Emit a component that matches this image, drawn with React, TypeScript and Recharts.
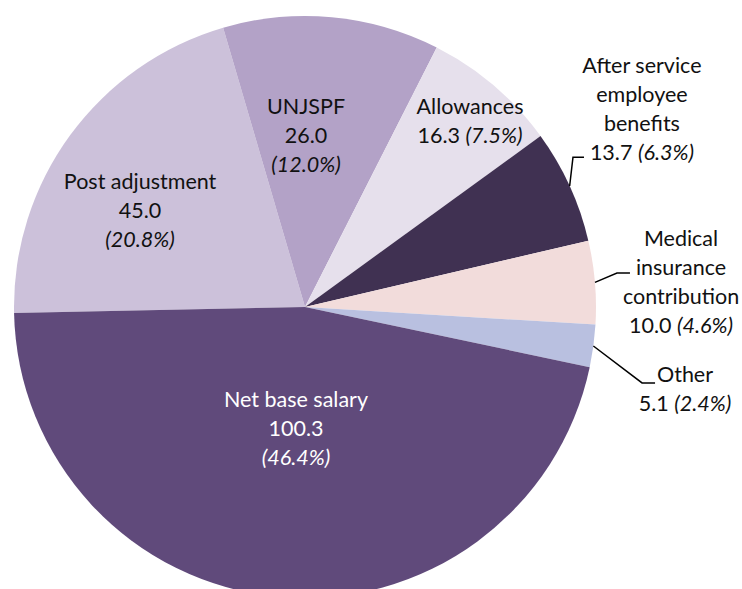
import React from 'react';
import { PieChart, Pie, Cell } from 'recharts';

// slices in clockwise order, starting at the left edge
const names = ['Post adjustment', 'UNJSPF', 'Allowances', 'After service employee benefits', 'Medical insurance contribution', 'Other', 'Net base salary'];
const values = [45.0, 26.0, 16.3, 13.7, 10.0, 5.1, 100.3];
const shares = ['20.8%', '12.0%', '7.5%', '6.3%', '4.6%', '2.4%', '46.4%'];
const colors = ['#CCC1DA', '#B3A2C7', '#E6E0EC', '#403152', '#F2DCDB', '#B9C0E0', '#604A7B'];

// label text lines: name lines, then whether value + share sit on one line
const nameLines = [
  ['Post adjustment'],
  ['UNJSPF'],
  ['Allowances'],
  ['After service', 'employee', 'benefits'],
  ['Medical', 'insurance', 'contribution'],
  ['Other'],
  ['Net base salary'],
];
const inlineValue = [false, false, true, true, true, true, false];

// label placement (polar, first line centre) and optional leader elbows
const labelPos = [
  { r: 207.6, a: 142.6 },
  { r: 201, a: 89.7 },
  { r: 260, a: 50.6 },
  { r: 414.9, a: 35.7 },
  { r: 382.3, a: 10.4 },
  { r: 385.9, a: -10.0 },
  { r: 92.4, a: -95.6 },
];
const leaders: ({ r: number; a: number; len: number } | null)[] = [
  null, null, null,
  { r: 307, a: 29.2, len: 11 },
  { r: 313.8, a: 6.2, len: 13 },
  { r: 345.5, a: -12.7, len: 13 },
  null,
];

const FONT = 'Lato, "Open Sans", sans-serif';
const FS = 21.5;
const LH = 29;
const RAD = Math.PI / 180;
const polar = (cx: number, cy: number, r: number, a: number) => ({
  x: cx + r * Math.cos(-a * RAD),
  y: cy + r * Math.sin(-a * RAD),
});

const data = names.map((n, i) => ({ name: n, value: values[i] }));

const renderLabel = (props: any) => {
  const { cx, cy, midAngle, outerRadius, index } = props;
  const pos = polar(cx, cy, labelPos[index].r, labelPos[index].a);
  const fill = index === 6 ? '#ffffff' : '#111111';
  const lines = nameLines[index];
  const val = values[index].toFixed(1);
  const share = `(${shares[index]})`;
  const texts: React.ReactNode[] = lines.map((l, k) => (
    <text key={'n' + k} x={pos.x} y={pos.y + k * LH} textAnchor="middle" dominantBaseline="central" fill={fill} fontSize={FS} fontFamily={FONT}>
      {l}
    </text>
  ));
  let k = lines.length;
  if (inlineValue[index]) {
    texts.push(
      <text key="v" x={pos.x} y={pos.y + k * LH} textAnchor="middle" dominantBaseline="central" fill={fill} fontSize={FS} fontFamily={FONT}>
        {val} <tspan fontStyle="italic">{share}</tspan>
      </text>
    );
  } else {
    texts.push(
      <text key="v" x={pos.x} y={pos.y + k * LH} textAnchor="middle" dominantBaseline="central" fill={fill} fontSize={FS} fontFamily={FONT}>
        {val}
      </text>
    );
    texts.push(
      <text key="s" x={pos.x} y={pos.y + (k + 1) * LH} textAnchor="middle" dominantBaseline="central" fill={fill} fontSize={FS} fontFamily={FONT} fontStyle="italic">
        {share}
      </text>
    );
  }
  const ld = leaders[index];
  let line = null;
  if (ld) {
    const s = polar(cx, cy, outerRadius, midAngle);
    const e = polar(cx, cy, ld.r, ld.a);
    line = (
      <polyline points={`${s.x},${s.y} ${e.x},${e.y} ${e.x + ld.len},${e.y}`} fill="none" stroke="#000" strokeWidth={1.5} />
    );
  }
  return (
    <g key={'lbl' + index}>
      {line}
      {texts}
    </g>
  );
};

export default function App() {
  return (
    <div style={{ position: 'absolute', left: 0, top: 0, width: 742, height: 589, background: '#fff', overflow: 'hidden' }}>
      <PieChart width={742} height={589} margin={{ top: 0, right: 0, bottom: 0, left: 0 }}>
        <Pie
          data={data}
          dataKey="value"
          nameKey="name"
          cx={305}
          cy={307}
          outerRadius={291}
          startAngle={181.2}
          endAngle={-178.8}
          stroke="none"
          label={renderLabel}
          labelLine={false}
          isAnimationActive={false}
        >
          {data.map((d, i) => (
            <Cell key={d.name} fill={colors[i]} />
          ))}
        </Pie>
      </PieChart>
    </div>
  );
}
